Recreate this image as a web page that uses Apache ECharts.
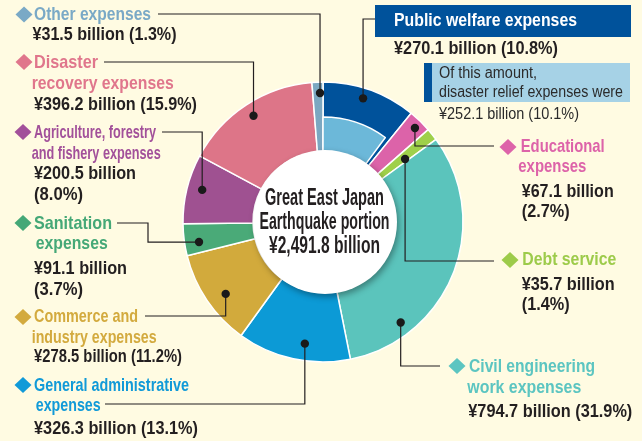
<!DOCTYPE html>
<html><head><meta charset="utf-8">
<script src="https://cdn.jsdelivr.net/npm/echarts@6/dist/echarts.min.js"></script>
<style>html,body{margin:0;padding:0;background:#fffbe2;}#c{width:642px;height:441px;}</style>
</head><body><div id="c"></div>
<script>
// ---- data ----
const categories = ['Public welfare expenses','Educational expenses','Debt service','Civil engineering work expenses','General administrative expenses','Commerce and industry expenses','Sanitation expenses','Agriculture, forestry and fishery expenses','Disaster recovery expenses','Other expenses'];
const values = [270.1, 67.1, 35.7, 794.7, 326.3, 278.5, 91.1, 200.5, 396.2, 31.5];
const shares = [10.8, 2.7, 1.4, 31.9, 13.1, 11.2, 3.7, 8.0, 15.9, 1.3];
const reliefValue = 252.1;
const reliefShare = 10.1;
const titleLines = ['Great East Japan', 'Earthquake portion', '¥2,491.8 billion'];
const nameLines = [['Public welfare expenses'],['Educational','expenses'],['Debt service'],['Civil engineering','work expenses'],['General administrative','expenses'],['Commerce and','industry expenses'],['Sanitation','expenses'],['Agriculture, forestry','and fishery expenses'],['Disaster','recovery expenses'],['Other expenses']];
const reliefLines = ['Of this amount,', 'disaster relief expenses were'];
const splitValue = [false, true, true, false, false, false, true, true, false, false];

// ---- styles / layout ----
const sliceColors = ['#00529b','#dc63a9','#9fd04a','#5bc4bc','#0c9ad6','#d2aa3c','#4aaa78','#9f5191','#dd7588','#7ba7c1'];
const textColors  = ['#00529b','#dd63a9','#9dcb4a','#5cc5c1','#119ad8','#d3aa3e','#45a877','#a2509a','#e0768c','#7aa9c6'];
const reliefColor = '#6cb8d9';
const CX = 323, CY = 222;

// [x, y, width] for each text line
const labelLayout = [
  null,
  {names:[[520.7,147,83],[518.3,167,67]], vals:[[521.7,192,91],[521.7,212,47]], dia:[508,147], lead:[[494,146]], frac:0.55, r:131.5},
  {names:[[522.3,260,93]], vals:[[521.7,285,92],[521.7,305,47]], dia:[510,260], lead:[[494,261]], frac:0.73, r:103.5},
  {names:[[469,367,125],[467.3,388,113]], vals:[[468.3,411.5,163]], dia:[457,366], lead:[[440,366]], frac:0.77, r:127},
  {names:[[34,386,154],[35.7,406,64]], vals:[[34,429,163]], dia:[23,385], lead:[[105,404]], frac:0.42, r:123},
  {names:[[34,317,103],[31.7,337.5,124]], vals:[[34,357,147]], dia:[23,317], lead:[[145,316]], frac:0.44, r:121},
  {names:[[34,224,77],[35.7,244,71]], vals:[[34,268.5,92],[34,290,48]], dia:[23,223], lead:[[117,223],[148,223]], mode:'h', frac:0.36, r:125.6},
  {names:[[34,133,121],[31.7,153.5,128]], vals:[[34,174,101],[34,195,48]], dia:[23,132], lead:[[162,132]], frac:0.54, r:125},
  {names:[[34,63,63],[31.7,84,141]], vals:[[34,105,162]], dia:[24,62], lead:[[104,62]], frac:0.5, r:127},
  {names:[[34,14.5,116]], vals:[[32.5,35,143]], dia:[24,14.5], lead:[[158,14]], frac:0.71, r:129}
];
const pwLayout = {name:[394,21,182], val:[394,48.5,163], lead:[[375,19]], frac:0.46, r:130};
const reliefLayout = [[439,74,97],[439,92.5,183]];
const reliefValLayout = [439,115,139];
const titleLayout = [[324.5,198.5,118],[324.5,222.5,129],[324.5,246.5,110]];

const FONT = "'Liberation Sans', Arial, sans-serif";
const total = values.reduce((a,b)=>a+b,0);
const fmtV = v => '¥' + v.toFixed(1) + ' billion';
const fmtS = s => '(' + s.toFixed(1) + '%)';

const mctx = document.createElement('canvas').getContext('2d');
function measure(text, font){ mctx.font = font; return mctx.measureText(text).width; }

const chart = echarts.init(document.getElementById('c'), null, {renderer:'canvas'});
chart.setOption({
  backgroundColor: '#fffbe2',
  animation: false,
  series: [
    {
      type: 'pie', z: 2, silent: true, center: [CX, CY], radius: [70, 140], startAngle: 90, clockwise: true,
      label: {show:false}, labelLine: {show:false},
      itemStyle: {borderColor:'#ffffff', borderWidth:1.5},
      data: categories.map((n,i)=>({name:n, value:values[i], itemStyle:{color:sliceColors[i]}}))
    },
    {
      type: 'pie', z: 3, silent: true, center: [CX, CY], radius: [70, 105], startAngle: 90, clockwise: true,
      label: {show:false}, labelLine: {show:false},
      data: [
        {name:'Disaster relief expenses', value: reliefValue, itemStyle:{color:reliefColor, borderColor:'#ffffff', borderWidth:1.5}},
        {name:'rest', value: total - reliefValue, itemStyle:{color:'rgba(0,0,0,0)', borderWidth:0}}
      ]
    }
  ]
});

function dotPos(i, frac, r) {
  let a;
  try {
    const lay = chart.getModel().getSeriesByIndex(0).getData().getItemLayout(i);
    a = lay.startAngle + frac * (lay.endAngle - lay.startAngle);
    return [lay.cx + r*Math.cos(a), lay.cy + r*Math.sin(a)];
  } catch(e) {
    let cum = 0; for (let k=0;k<i;k++) cum += values[k];
    a = -Math.PI/2 + (cum + frac*values[i]) / total * 2*Math.PI;
    return [CX + r*Math.cos(a), CY + r*Math.sin(a)];
  }
}

const g = [];
function txt(pos, text, opts) {
  const font = (opts.weight||'bold')+' '+(opts.size||19)+'px '+FONT;
  const sx = (pos[2] + 1) / measure(text, font);
  g.push({type:'text', x:pos[0], y:pos[1], z:30, scaleX: sx, silent:true,
    style:{text:text, fill:opts.color||'#231f20', font:font,
      align:opts.align||'left', verticalAlign:'middle'}});
}
function leader(i, L) {
  const d = dotPos(i, L.frac, L.r);
  const pts = L.lead.map(p=>p.slice());
  const last = pts[pts.length-1];
  if (L.mode === 'h') { pts.push([last[0], d[1]]); pts.push(d); }
  else { pts.push([d[0], last[1]]); pts.push(d); }
  g.push({type:'polyline', z:25, silent:true, shape:{points:pts}, style:{stroke:'#231f20', lineWidth:1.2, fill:null}});
  g.push({type:'circle', z:26, silent:true, shape:{cx:d[0], cy:d[1], r:4.2}, style:{fill:'#1a1a1a'}});
}

// centre disc
g.push({type:'circle', z:10, silent:true, shape:{cx:325, cy:222, r:72},
  style:{fill:'#ffffff', shadowBlur:6, shadowOffsetX:2, shadowOffsetY:3, shadowColor:'rgba(0,0,0,0.35)'}});
titleLines.forEach((t,k)=>txt(titleLayout[k], t, {size:23, align:'center'}));

// labels
for (let i=1;i<categories.length;i++) {
  const L = labelLayout[i];
  const c = L.dia;
  g.push({type:'polygon', z:30, silent:true, shape:{points:[[c[0]-8.5,c[1]],[c[0],c[1]-8],[c[0]+8.5,c[1]],[c[0],c[1]+8]]}, style:{fill:textColors[i]}});
  nameLines[i].forEach((t,k)=>txt(L.names[k], t, {color:textColors[i]}));
  const vl = splitValue[i] ? [fmtV(values[i]), fmtS(shares[i])] : [fmtV(values[i]) + ' ' + fmtS(shares[i])];
  vl.forEach((t,k)=>txt(L.vals[k], t, {}));
  leader(i, L);
}
// public welfare box
g.push({type:'rect', z:28, silent:true, shape:{x:375, y:5, width:256, height:32}, style:{fill:'#00529b'}});
txt(pwLayout.name, nameLines[0][0], {color:'#ffffff', size:18});
txt(pwLayout.val, fmtV(values[0]) + ' ' + fmtS(shares[0]), {});
g.push({type:'rect', z:28, silent:true, shape:{x:424, y:63, width:206, height:39}, style:{fill:'#a6d2e6'}});
g.push({type:'rect', z:29, silent:true, shape:{x:424, y:63, width:8, height:39}, style:{fill:'#00529b'}});
reliefLines.forEach((t,k)=>txt(reliefLayout[k], t, {weight:'normal', size:16, color:'#2b2b2b'}));
txt(reliefValLayout, fmtV(reliefValue) + ' ' + fmtS(reliefShare), {weight:'normal', size:16, color:'#2b2b2b'});
leader(0, pwLayout);

chart.setOption({graphic: {elements: g}});
</script>
</body></html>
